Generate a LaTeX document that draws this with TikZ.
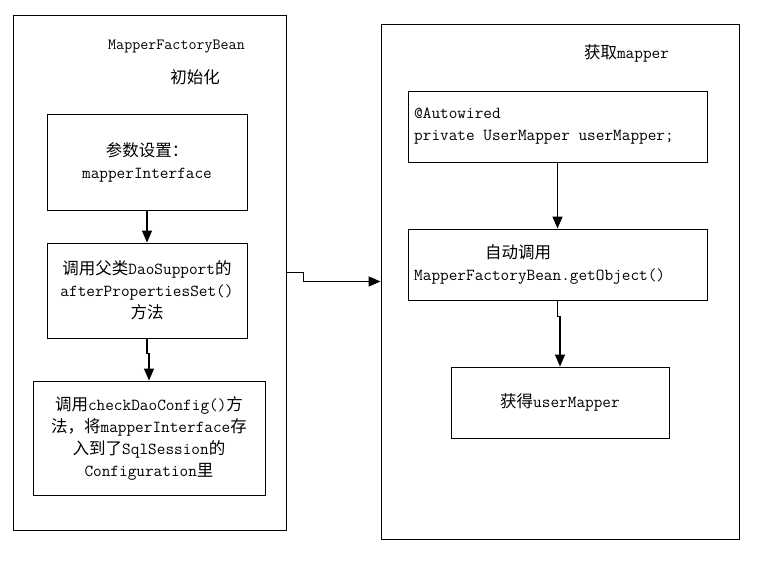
\documentclass[tikz,border=0pt]{standalone}
\usepackage{fontspec}
\newfontfamily\cjkfont{Noto Sans CJK SC}
\newcommand{\cj}[1]{{\cjkfont\fontsize{16.5}{22}\selectfont #1}}
\usetikzlibrary{arrows.meta}
\begin{document}
\begin{tikzpicture}[x=1pt,y=-1pt,
  outer/.style={draw,line width=0.9pt,inner sep=0pt},
  box/.style={draw,line width=0.9pt,inner sep=0pt,align=center,font=\ttfamily\fontsize{16.8}{22}\selectfont},
  title/.style={inner sep=0pt,font=\ttfamily\fontsize{16.8}{22}\selectfont},
  conn/.style={line width=1.3pt,-{Triangle[length=12pt,width=10pt]}}]
\useasboundingbox (0,0) rectangle (781,585);
\fill[white] (0,0) rectangle (781,585);
% outer frames
\node[outer,minimum width=273pt,minimum height=515pt] (L) at (149.5,272.5) {};
\node[outer,minimum width=358pt,minimum height=515pt] (R) at (560,281.5) {};
% titles
\node[title,font=\ttfamily\fontsize{15.6}{20}\selectfont] (t1) at (176.5,47) {MapperFactoryBean};
\node[title] (t2) at (195,77) {\cj{初始化}};
\node[title] (t3) at (626.5,53) {\cj{获取}mapper};
% left boxes
\node[box,minimum width=200pt,minimum height=96pt] (b1) at (147,162) {\cj{参数设置：}\\mapperInterface};
\node[box,minimum width=200pt,minimum height=95pt] (b2) at (147,290.5) {\cj{调用父类}DaoSupport\cj{的}\\afterPropertiesSet()\\\cj{方法}};
\node[box,minimum width=232pt,minimum height=114pt] (b3) at (149,438) {\cj{调用}checkDaoConfig()\cj{方}\\\cj{法，将}mapperInterface\cj{存}\\\cj{入到了}SqlSession\cj{的}\\Configuration\cj{里}};
% right boxes
\node[box,minimum width=299pt,minimum height=71pt] (r1) at (557.5,126.5) {};
\node[title,anchor=west,align=left] (r1t) at (414,126) {@Autowired\\private UserMapper userMapper;};
\node[box,minimum width=299pt,minimum height=71pt] (r2) at (557.5,264.5) {};
\node[title,anchor=west,align=left] (r2t) at (414,264) {\hspace*{71pt}\cj{自动调用}\\MapperFactoryBean.getObject()};
\node[box,minimum width=218pt,minimum height=71pt] (r3) at (560,402.5) {\cj{获得}userMapper};
% connectors
\draw[conn] (b1) -- (b2);
\draw[conn] (b2.south) -- ++(0,15) -| (b3.north);
\draw[conn] (r1) -- (r2);
\draw[conn] (r2.south) -- ++(0,16) -| (r3.north);
\draw[conn] (L.east) -- ++(17,0) |- (R.west);
\end{tikzpicture}
\end{document}
